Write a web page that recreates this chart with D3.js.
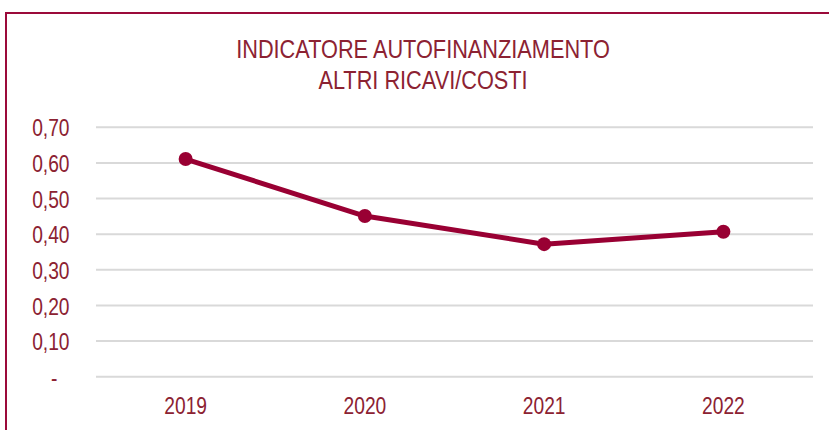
<!DOCTYPE html>
<html>
<head>
<meta charset="utf-8">
<script src="https://cdn.jsdelivr.net/npm/d3@7"></script>
<style>
  body { margin: 0; background: #fff; }
  svg text { font-family: "Liberation Sans Narrow", "Arial Narrow", "Liberation Sans", sans-serif; fill: #8c2232; }
</style>
</head>
<body>
<div id="chart"></div>
<script>
"use-strict";

// chart data
const years = ["2019", "2020", "2021", "2022"];
const values = [0.611, 0.451, 0.372, 0.407];
const yTicks = [0, 0.1, 0.2, 0.3, 0.4, 0.5, 0.6, 0.7];
const titleLines = ["INDICATORE AUTOFINANZIAMENTO", "ALTRI RICAVI/COSTI"];

const msm = {
    width: 829,
    height: 430,
    left: 96,
    right: 813,
    top: 127.3,
    bottom: 376.7
}
const narrow = 0.8; // squeeze regular Liberation Sans to look like Arial Narrow

const svg = d3.select("#chart")
    .append("svg")
    .attr("width", msm.width)
    .attr("height", msm.height);

// outer frame (top and left edges visible)
svg.append("path")
    .attr("d", "M6,440 L6,13 L840,13")
    .attr("fill", "none")
    .attr("stroke", "#9b0a3a")
    .attr("stroke-width", 2);

// title
svg.selectAll(".title")
    .data(titleLines)
    .enter()
    .append("text")
    .attr("class", "title")
    .attr("transform", (d, i) => "translate(423," + (58.3 + i * 30.7) + ") scale(0.82,1)")
    .attr("text-anchor", "middle")
    .style("font-size", "26.5px")
    .text(d => d);

// scales
let xScale = d3.scaleBand()
    .domain(years)
    .range([msm.left, msm.right]);

let yScale = d3.scaleLinear()
    .domain([0, 0.7])
    .range([msm.bottom, msm.top]);

// gridlines
svg.append("g")
    .selectAll("line")
    .data(yTicks)
    .enter()
    .append("line")
    .attr("x1", msm.left)
    .attr("x2", msm.right)
    .attr("y1", d => yScale(d))
    .attr("y2", d => yScale(d))
    .attr("stroke", "#d9d9d9")
    .attr("stroke-width", 2);

// y axis labels
let fmt = d => d === 0 ? "-" : d.toFixed(2).replace(".", ",");
let yAxis = d3.axisLeft(yScale)
    .tickValues(yTicks)
    .tickFormat(fmt)
    .tickSize(0)
    .tickPadding(0);
let gy = svg.append("g")
    .attr("transform", "translate(69.5,0)")
    .call(yAxis);
gy.select(".domain").remove();
gy.selectAll("text")
    .style("font-size", "24px")
    .attr("dy", "0.36em")
    .attr("x", d => d === 0 ? -15 : 0)
    .attr("transform", "scale(" + narrow + ",1)");

// x axis labels
let xAxis = d3.axisBottom(xScale).tickSize(0).tickPadding(0);
let gx = svg.append("g")
    .attr("transform", "translate(0,414.3)")
    .call(xAxis);
gx.select(".domain").remove();
gx.selectAll("text")
    .style("font-size", "24px")
    .attr("y", 0)
    .attr("dy", 0)
    .attr("transform", "scale(" + narrow + ",1)");

// line
let cx = (d, i) => xScale(years[i]) + xScale.bandwidth() / 2;
let line = d3.line()
    .x(cx)
    .y(d => yScale(d));

svg.append("path")
    .datum(values)
    .attr("d", line)
    .attr("fill", "none")
    .attr("stroke", "#990033")
    .attr("stroke-width", 5)
    .attr("stroke-linejoin", "round");

svg.selectAll(".dot")
    .data(values)
    .enter()
    .append("circle")
    .attr("class", "dot")
    .attr("cx", cx)
    .attr("cy", d => yScale(d))
    .attr("r", 7)
    .attr("fill", "#990033");
</script>
</body>
</html>
